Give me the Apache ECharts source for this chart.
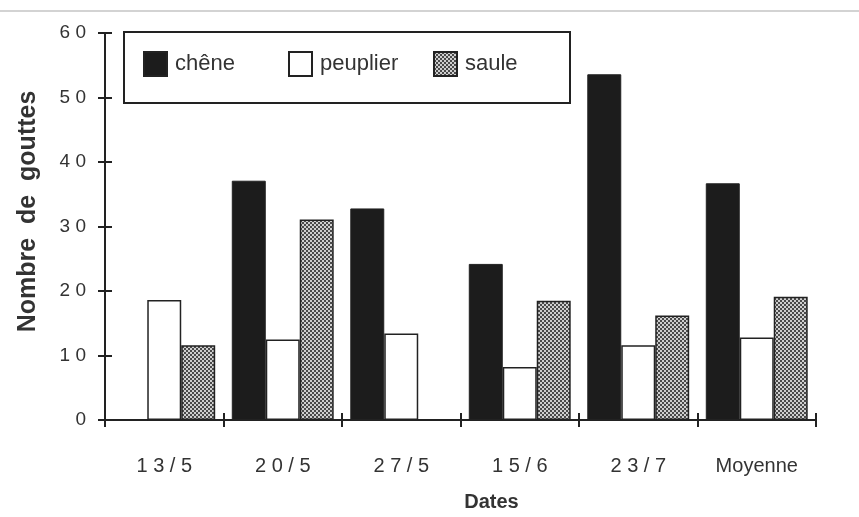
<!DOCTYPE html>
<html>
<head>
<meta charset="utf-8">
<script src="https://cdn.jsdelivr.net/npm/echarts@6/dist/echarts.min.js"></script>
<style>
  html, body { margin: 0; padding: 0; background: #fff; }
  #chart { width: 859px; height: 517px; }
</style>
</head>
<body>
<div id="chart"></div>
<script>
// categories and values
const dates = ["13/5", "20/5", "27/5", "15/6", "23/7", "Moyenne"];
const chene = [0, 37.1, 32.8, 24.2, 53.6, 36.7];
const peuplier = [18.6, 12.5, 13.4, 8.2, 11.6, 12.8];
const saule = [11.6, 31.1, 0, 18.5, 16.2, 19.1];
const yTicks = [0, 10, 20, 30, 40, 50, 60];

const FONT = "Liberation Sans";
const INK = "#222";

// small checker tile for the "saule" hatch
const makePattern = () => {
    const c = document.createElement("canvas");
    c.width = 4;
    c.height = 4;
    const ctx = c.getContext("2d");
    ctx.fillStyle = "#cfcfcf";
    ctx.fillRect(0, 0, 4, 4);
    ctx.fillStyle = "#4a4a4a";
    ctx.fillRect(0, 0, 2, 2);
    ctx.fillRect(2, 2, 2, 2);
    return c;
};
const sauleFill = { image: makePattern(), repeat: "repeat" };

// digits printed with spaces, like the original labels
const spaced = v => (/^[0-9/]+$/.test(String(v)) ? String(v).split("").join(" ") : String(v));

const chart = echarts.init(document.getElementById("chart"));

const legendAt = (name, left) => ({
    data: [{ name: name, icon: "rect" }],
    left: left,
    top: 51,
    z: 10,
    itemWidth: 23,
    itemHeight: 24,
    itemGap: 0,
    padding: 0,
    selectedMode: false,
    textStyle: { fontFamily: FONT, fontSize: 22, color: "#333", padding: [2, 0, 0, 3] }
});

const baseY = {
    type: "value",
    min: 0,
    max: 60,
    interval: 10,
    splitLine: { show: false }
};

const option = {
    animation: false,
    backgroundColor: "#fff",
    grid: { left: 105, right: 43, top: 33, bottom: 95 },
    graphic: [
        {
            type: "line",
            shape: { x1: 0, y1: 11, x2: 859, y2: 11 },
            style: { stroke: "#c4c4c4", lineWidth: 1.5 }
        },
        {
            type: "rect",
            shape: { x: 124, y: 32, width: 446, height: 71 },
            style: { fill: "#fff", stroke: INK, lineWidth: 2 },
            z: 1
        }
    ],
    legend: [legendAt("chêne", 143), legendAt("peuplier", 288), legendAt("saule", 433)],
    xAxis: [
        {
            type: "category",
            data: dates,
            axisLine: { lineStyle: { color: INK, width: 2 } },
            axisTick: { show: true, length: 7, lineStyle: { color: INK, width: 2 } },
            axisLabel: {
                margin: 36,
                fontFamily: FONT,
                fontSize: 20,
                color: "#333",
                formatter: v => spaced(v)
            },
            name: "Dates",
            nameLocation: "middle",
            nameGap: 72,
            nameTextStyle: {
                fontFamily: FONT, fontSize: 20, fontWeight: "bold", color: "#333",
                padding: [0, 0, 0, 62]
            }
        },
        {
            type: "category",
            data: dates,
            position: "bottom",
            axisLine: { show: false },
            axisTick: { show: true, inside: true, length: 7, lineStyle: { color: INK, width: 2 } },
            axisLabel: { show: false }
        }
    ],
    yAxis: [
        Object.assign({}, baseY, {
            axisLine: { show: true, lineStyle: { color: INK, width: 2 } },
            axisTick: { show: true, length: 7, lineStyle: { color: INK, width: 2 } },
            axisLabel: {
                margin: 19,
                fontFamily: FONT,
                fontSize: 19,
                color: "#333",
                formatter: v => (yTicks.includes(v) ? spaced(v) : "")
            },
            name: "Nombre  de  gouttes",
            nameLocation: "middle",
            nameGap: 64,
            nameTextStyle: {
                fontFamily: FONT, fontSize: 25, fontWeight: "bold", color: "#333",
                padding: [0, 0, 0, 30]
            }
        }),
        Object.assign({}, baseY, {
            position: "left",
            axisLine: { show: false },
            axisTick: { show: true, inside: true, length: 7, lineStyle: { color: INK, width: 2 } },
            axisLabel: { show: false }
        })
    ],
    series: [
        {
            name: "chêne",
            type: "bar",
            data: chene,
            barGap: 0,
            barCategoryGap: "14%",
            itemStyle: { color: "#1c1c1c", borderColor: INK, borderWidth: 1 }
        },
        {
            name: "peuplier",
            type: "bar",
            data: peuplier,
            itemStyle: { color: "#fff", borderColor: INK, borderWidth: 1.5 }
        },
        {
            name: "saule",
            type: "bar",
            data: saule,
            itemStyle: { color: sauleFill, borderColor: INK, borderWidth: 1.5 }
        }
    ]
};

chart.setOption(option);
</script>
</body>
</html>
